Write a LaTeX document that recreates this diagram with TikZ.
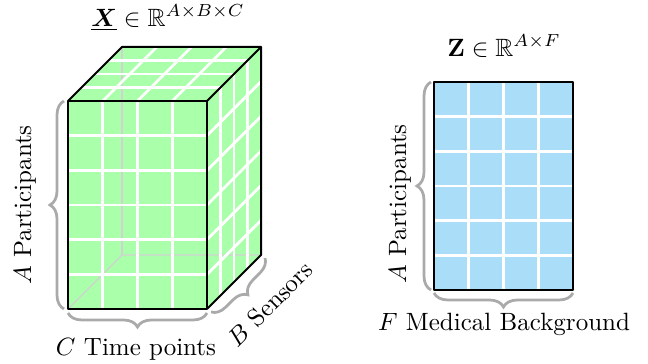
\documentclass[tikz,border=0pt]{standalone}
\usepackage{amsmath,amssymb,bm}
\usetikzlibrary{decorations.pathreplacing,calc}
\definecolor{cubegreen}{RGB}{170,255,170}
\definecolor{matblue}{RGB}{170,222,248}
\definecolor{bracegray}{RGB}{170,170,170}
\tikzset{
  edge/.style={draw=black, line width=0.8pt, line join=round},
  gridline/.style={draw=white, line width=1.1pt},
  hidden/.style={draw=black!18, line width=0.5pt},
  bracestyle/.style={draw=bracegray, line width=1.1pt, decorate, decoration={brace, amplitude=5.6pt}},
  lbl/.style={inner sep=0pt, font=\normalsize}
}
\begin{document}
\begin{tikzpicture}[x=0.4pt, y=-0.4pt]
\useasboundingbox (0,0) rectangle (648,364);
% cube corners
\coordinate (fbl) at (68,309);
\coordinate (fbr) at (207,309);
\coordinate (ftl) at (68,101);
\coordinate (ftr) at (207,101);
\coordinate (bbl) at (122,255);
\coordinate (bbr) at (261,255);
\coordinate (btl) at (122,47);
\coordinate (btr) at (261,47);
% faces
\fill[cubegreen] (ftl) -- (ftr) -- (btr) -- (btl) -- cycle;
\fill[cubegreen] (ftr) -- (btr) -- (bbr) -- (fbr) -- cycle;
\fill[cubegreen] (ftl) rectangle (fbr);
% hidden edges
\draw[hidden] (fbl) -- (bbl) -- (bbr);
\draw[hidden] (bbl) -- (btl);
% front grid
\foreach \k in {1,2,3} \draw[gridline] ($(ftl)+(34.75*\k,0)$) -- ($(fbl)+(34.75*\k,0)$);
\foreach \k in {1,...,5} \draw[gridline] ($(ftl)+(0,34.667*\k)$) -- ($(ftr)+(0,34.667*\k)$);
% side grid
\foreach \k in {1,2,3} \draw[gridline] ($(ftr)+(13.5*\k,-13.5*\k)$) -- ($(fbr)+(13.5*\k,-13.5*\k)$);
\foreach \k in {1,...,5} \draw[gridline] ($(ftr)+(0,34.667*\k)$) -- ($(btr)+(0,34.667*\k)$);
% top grid
\foreach \k in {1,2,3} \draw[gridline] ($(ftl)+(34.75*\k,0)$) -- ($(btl)+(34.75*\k,0)$);
\foreach \k in {1,2,3} \draw[gridline] ($(ftl)+(13.5*\k,-13.5*\k)$) -- ($(ftr)+(13.5*\k,-13.5*\k)$);
% visible edges
\draw[edge] (ftl) rectangle (fbr);
\draw[edge] (ftl) -- (btl) -- (btr) -- (ftr);
\draw[edge] (btr) -- (bbr) -- (fbr);
% braces cube
\coordinate (lb1) at (64,309); \coordinate (lb2) at (64,101);
\draw[bracestyle] (lb1) -- (lb2);
\coordinate (bb1) at (207,313); \coordinate (bb2) at (68,313);
\draw[bracestyle] (bb1) -- (bb2);
\coordinate (sb1) at (265,258); \coordinate (sb2) at (211,312);
\draw[bracestyle] (sb1) -- (sb2);
% labels cube
\node[lbl] (xlab) at (168,18) {$\underline{\boldsymbol{X}} \in \mathbb{R}^{A\times B\times C}$};
\node[lbl, rotate=90] (apl) at (25,205) {$A$ Participants};
\node[lbl] (ctl) at (136,349) {$C$ Time points};
\node[lbl, rotate=45] (bsl) at (270,304) {$B$ Sensors};
% matrix Z
\coordinate (mtl) at (434,82);
\coordinate (mbr) at (573,290);
\coordinate (mbl) at (434,290);
\coordinate (mtr) at (573,82);
\fill[matblue] (mtl) rectangle (mbr);
\foreach \k in {1,2,3} \draw[gridline] ($(mtl)+(34.75*\k,0)$) -- ($(mbl)+(34.75*\k,0)$);
\foreach \k in {1,...,5} \draw[gridline] ($(mtl)+(0,34.667*\k)$) -- ($(mtr)+(0,34.667*\k)$);
\draw[edge] (mtl) rectangle (mbr);
\coordinate (mlb1) at (431,290); \coordinate (mlb2) at (431,82);
\draw[bracestyle] (mlb1) -- (mlb2);
\coordinate (mbb1) at (573,293); \coordinate (mbb2) at (434,293);
\draw[bracestyle] (mbb1) -- (mbb2);
\node[lbl] (zlab) at (504,46) {$\mathbf{Z} \in \mathbb{R}^{A\times F}$};
\node[lbl, rotate=90] (apr) at (400,204) {$A$ Participants};
\node[lbl] (fml) at (504,324) {$F$ Medical Background};
\end{tikzpicture}
\end{document}
